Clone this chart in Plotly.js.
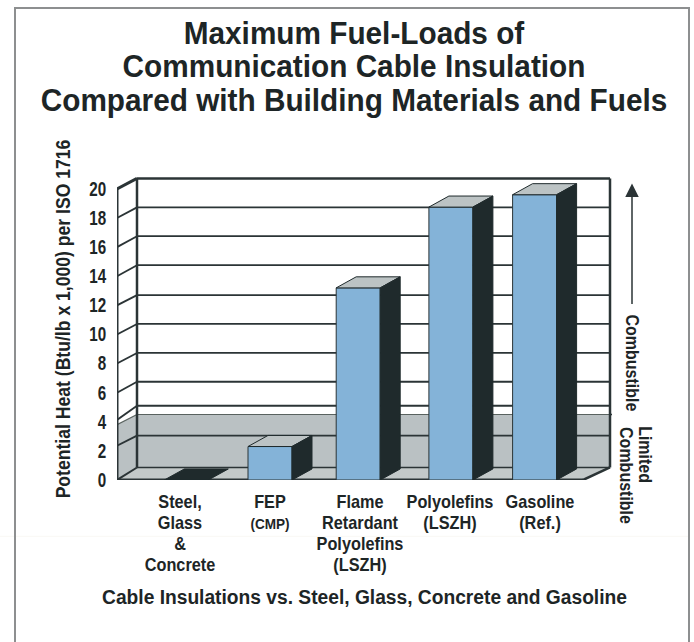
<!DOCTYPE html>
<html><head><meta charset="utf-8">
<script src="https://cdn.plot.ly/plotly-3.0.1.min.js"></script>
<style>html,body{margin:0;padding:0;background:#fff}#c{width:694px;height:642px}</style>
</head><body><div id="c"></div>
<script>
// ---- data ----
const categories = ['<b>Steel,<br>Glass<br>&amp;<br>Concrete</b>',
  '<b>FEP<br><span style="font-size:15px">(CMP)</span></b>',
  '<b>Flame<br>Retardant<br>Polyolefins<br>(LSZH)</b>',
  '<b>Polyolefins<br>(LSZH)</b>',
  '<b>Gasoline<br>(Ref.)</b>'];
const values = [0, 2.3, 13.2, 18.75, 19.6];
const yTicks = [0,2,4,6,8,10,12,14,16,18,20];
const gridFront = [2.35,4.13,6,8,10,12,14,16,18];
const gridBack  = [3.05,5.1,6.75,8.73,10.72,12.7,14.76,16.75,18.73];
const limitedCombustible = 3.8;
const barOffsets = [0.07, 0, -0.02, 0.01, -0.06];

// ---- drawing constants ----
const W=694,H=642,L=117,R=612,T=157.5,B=480.5;
const UX=90,X0=180,UY=14.6;
const xOf=p=>(p-X0)/UX;
const depthX=20/UX, depthY=0.7, barDepthY=0.76, floorY=0.86, halfW=22/UX;
const left=xOf(L), wallL=xOf(137), wallR=xOf(610), floorR=xOf(583);
const top20=20.72;
const px=p=>(p-L)/(R-L), py=p=>(B-p)/(B-T);
const DARK='#1f2a2c', LINE='#2b3436', GRAY='#bac1c3', FLOOR='#c3c9c9', BLUE='#84b3d8', TOP='#bcc3c4';
const xPos=categories.map((_,i)=>i);
const barX=xPos.map((v,i)=>v+barOffsets[i]);
const FONT='"Liberation Sans",Arial,sans-serif';
const INK='#1d2526';

const shapes=[];
shapes.push({type:'line',xref:'paper',yref:'paper',layer:'below',x0:px(0),x1:px(689),y0:py(537),y1:py(537),line:{color:'#f9f8f4',width:1}});
shapes.push({type:'rect',xref:'paper',yref:'paper',layer:'below',x0:px(15),x1:px(689),y0:py(660),y1:py(7),line:{color:'#8d8f90',width:2},fillcolor:'rgba(0,0,0,0)'});
const line=(x0,y0,x1,y1,w,c)=>shapes.push({type:'line',xref:'x',yref:'y',layer:'below',x0,y0,x1,y1,line:{color:c||LINE,width:w}});
const poly=(pts,fill,lw)=>shapes.push({type:'path',xref:'x',yref:'y',layer:'below',
  path:'M'+pts.map(p=>p.join(',')).join('L')+'Z',fillcolor:fill,line:{color:LINE,width:lw||0}});
poly([[wallL,floorY],[wallR,floorY],[wallR,limitedCombustible+depthY],[wallL,limitedCombustible+depthY]],GRAY);
poly([[left,0],[wallL,floorY],[wallL,limitedCombustible+depthY],[left,limitedCombustible]],GRAY);
line(wallL,limitedCombustible+depthY,wallR,limitedCombustible+depthY,1.2,'#59625f');
line(left,limitedCombustible,wallL,limitedCombustible+depthY,1.2,'#59625f');
gridBack.forEach((b,i)=>{ line(wallL,b,wallR,b,1.8); line(left,gridFront[i],wallL,b,1.8); });
poly([[left,0],[floorR,0],[wallR,floorY],[wallL,floorY]],FLOOR);
line(wallL,floorY,wallR,floorY,1.5);
line(wallL,floorY,wallL,top20,2.5); line(wallR,floorY,wallR,top20,2.5);
line(wallL,top20,wallR,top20,2.5);
line(left,0,left,20,3); line(left,20,wallL,top20,3);
line(left,0,floorR,0,3.2); line(floorR,0,wallR,floorY,2.5); line(left,0,wallL,floorY,2);

const traces=[];
traces.push({type:'bar',x:barX,y:values,width:2*halfW,marker:{color:BLUE,line:{color:LINE,width:1}},hoverinfo:'skip',showlegend:false});
barX.forEach((c,i)=>{
  const v=values[i], a=c-halfW, b=c+halfW;
  traces.push({type:'scatter',mode:'lines',x:[a,b,b+depthX,a+depthX,a],y:[v,v,v+barDepthY,v+barDepthY,v],fill:'toself',
    fillcolor:v===0?DARK:TOP,line:{color:DARK,width:1},hoverinfo:'skip',showlegend:false,cliponaxis:false});
  if(v>0) traces.push({type:'scatter',mode:'lines',x:[b,b+depthX,b+depthX,b,b],y:[0,barDepthY,v+barDepthY,v,0],fill:'toself',
    fillcolor:DARK,line:{color:DARK,width:1},hoverinfo:'skip',showlegend:false,cliponaxis:false});
});
traces.push({type:'scatter',mode:'lines',x:[wallR,xOf(652)],y:[limitedCombustible+depthY,limitedCombustible+depthY],
  line:{color:LINE,width:1.5},hoverinfo:'skip',showlegend:false,cliponaxis:false});

const sideFont={family:FONT,size:18,color:INK};
const side=(x,y,text)=>({xref:'paper',yref:'paper',x:px(x),y:py(y),xanchor:'center',yanchor:'middle',textangle:90,showarrow:false,text:'<b>'+text+'</b>',font:sideFont});
const annotations=[
  {xref:'paper',yref:'paper',x:px(632),y:py(183),axref:'pixel',ayref:'pixel',ax:0,ay:122,showarrow:true,arrowhead:2,arrowsize:1.8,arrowwidth:1.5,arrowcolor:LINE,text:''},
  side(632,362.5,'Combustible'),
  side(645,455,'Limited'),
  side(626,475.5,'Combustible')
];

const gd=document.getElementById('c');
Plotly.newPlot(gd,traces,{
  width:W,height:H,paper_bgcolor:'#fff',plot_bgcolor:'#fff',showlegend:false,
  margin:{l:L,r:W-R,t:T,b:H-B,pad:0},barmode:'overlay',
  font:{family:FONT,color:INK},
  title:{text:'<b>Maximum Fuel-Loads of<br>Communication Cable Insulation<br>Compared with Building Materials and Fuels</b>',
    font:{family:FONT,size:32,color:INK},xref:'paper',x:px(354),xanchor:'center',yref:'container',y:1-44/H,yanchor:'top'},
  xaxis:{range:[left,xOf(R)],tickmode:'array',tickvals:xPos,ticktext:categories,tickangle:0,
    ticks:'outside',ticklen:5,tickcolor:'rgba(0,0,0,0)',showgrid:false,zeroline:false,showline:false,
    tickfont:{family:FONT,size:18,color:INK},
    title:{text:'<b>Cable Insulations vs. Steel, Glass, Concrete and Gasoline</b>',standoff:8,font:{family:FONT,size:21,color:INK}}},
  yaxis:{range:[0,(B-T)/UY],tickmode:'array',tickvals:yTicks,ticktext:yTicks.map(v=>'<b>'+v+'</b>'),
    ticks:'outside',ticklen:6,tickcolor:'rgba(0,0,0,0)',showgrid:false,zeroline:false,showline:false,
    tickfont:{family:FONT,size:19.5,color:INK},
    title:{text:'<b>Potential Heat (Btu/lb x 1,000) per ISO 1716</b>',standoff:8,font:{family:FONT,size:20,color:INK}}},
  shapes,annotations
},{displayModeBar:false,responsive:false}).then(()=>{
  // The source type is a condensed grotesque; narrow the real text horizontally about its anchor.
  const narrow=(sel,f,useBox)=>gd.querySelectorAll(sel).forEach(t=>{
    let x=t.getAttribute('x')||0;
    if(useBox){const b=t.getBBox(); x=b.x+b.width/2;}
    const tr=t.getAttribute('transform')||'';
    t.setAttribute('transform',`${tr} translate(${x},0) scale(${f},1) translate(${-x},0)`);
  });
  // Tighter leading than Plotly's default, as in the source.
  const leading=(sel,k)=>gd.querySelectorAll(sel).forEach(t=>{
    t.querySelectorAll('tspan.line').forEach((s,i)=>s.setAttribute('dy',(i*k)+'em'));
  });
  leading('.gtitle',1.047);
  leading('.xtick text',1.167);
  narrow('.gtitle',0.93);
  narrow('.xtick text',0.905);
  narrow('.ytick text',0.78);
  narrow('.xtitle',0.915);
  narrow('.ytitle',0.88);
  narrow('.annotation-text',0.89,true);
});
</script></body></html>
